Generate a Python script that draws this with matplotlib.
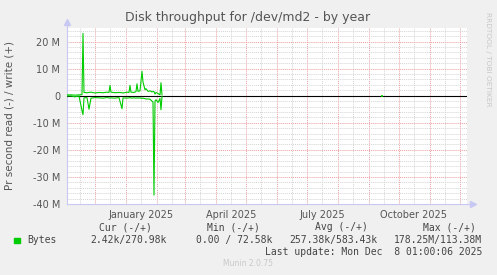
import datetime as dt
import matplotlib
matplotlib.use("Agg")
import matplotlib.pyplot as plt
import matplotlib.dates as mdates
from matplotlib.ticker import MultipleLocator, FuncFormatter

# time window: munin "year" graph = 400 days ending at last update
end = dt.datetime(2025, 12, 8, 1, 0, 6)
start = end - dt.timedelta(days=400)

# data, day offsets from start, values in bytes/s (millions)
days = [0, 4, 8, 12, 15, 16, 17, 20, 22, 24, 28, 32, 36, 40, 42, 43, 44, 48,
        52, 55, 56, 60, 62, 63, 64, 67, 69, 70, 71, 73, 75, 76, 77, 78, 79,
        81, 83, 85, 86, 87, 88, 89, 91, 93, 94, 95]
write_m = [0.3, 0.3, 0.2, 0.3, 0.4, 23.0, 1.2, 1.1, 1.2, 1.3, 1.0, 1.2, 1.1,
           1.3, 1.2, 3.8, 1.3, 1.1, 1.2, 1.1, 1.0, 1.3, 1.2, 3.8, 1.3, 1.2,
           1.5, 4.4, 1.6, 1.8, 9.0, 5.0, 3.6, 2.2, 2.6, 1.6, 1.8, 1.4, 1.6,
           1.5, 0.6, 1.2, 0.8, 0.3, 4.8, 0.3]
read_m = [-0.1, -0.1, -0.4, -0.1, -5.5, -7.0, -0.8, -0.7, -5.0, -0.9, -0.7,
          -0.8, -0.9, -0.7, -0.8, -0.9, -0.8, -0.9, -0.7, -4.8, -0.8, -0.9,
          -0.8, -0.7, -0.9, -0.8, -0.9, -0.8, -0.9, -0.8, -1.0, -0.9, -1.0,
          -1.1, -1.2, -1.2, -1.3, -2.0, -2.4, -36.7, -2.0, -1.5, -2.5, -1.0,
          -5.2, -0.3]
lone_day = 315
lone_write = 0.4
lone_read = -0.4

month_labels = {1: "January 2025", 4: "April 2025", 7: "July 2025", 10: "October 2025"}

leg_head = ["Cur (-/+)", "Min (-/+)", "Avg (-/+)", "Max (-/+)"]
leg_vals = ["2.42k/270.98k", "0.00 / 72.58k", "257.38k/583.43k", "178.25M/113.38M"]

green = "#00CC00"
txt = "#555555"
axcol = "#C8C8F4"

fig = plt.figure(figsize=(4.97, 2.75), dpi=100)
fig.patch.set_facecolor("#F0F0F0")
ax = fig.add_axes([67 / 497, 71 / 275, 400 / 497, 176 / 275])
ax.set_facecolor("white")

t = [start + dt.timedelta(days=d) for d in days]
ax.plot(t, [v * 1e6 for v in write_m], color=green, lw=0.8, zorder=4)
ax.plot(t, [v * 1e6 for v in read_m], color=green, lw=0.8, zorder=4)
lt = start + dt.timedelta(days=lone_day)
ax.vlines(lt, lone_read * 1e6, lone_write * 1e6, color=green, lw=1.2, zorder=4)

ax.axhline(0, color="black", lw=0.8, zorder=3)

ax.set_xlim(start, end)
ax.set_ylim(-40e6, 25e6)

ax.xaxis.set_major_locator(mdates.MonthLocator())
ax.xaxis.set_minor_locator(mdates.MonthLocator(bymonthday=16))
ax.xaxis.set_major_formatter(FuncFormatter(lambda v, p: ""))

def xlab(v, p):
    d = mdates.num2date(v)
    return month_labels.get(d.month, "") if d.year == 2025 else ""

ax.xaxis.set_minor_formatter(FuncFormatter(xlab))

ax.yaxis.set_major_locator(MultipleLocator(10e6))
ax.yaxis.set_minor_locator(MultipleLocator(2e6))
ax.yaxis.set_major_formatter(FuncFormatter(lambda v, p: "0" if abs(v) < 1 else "%d M" % round(v / 1e6)))

dots = (0, (1, 1))
ax.grid(which="minor", color="#D4D4D4", lw=0.7, ls=dots, zorder=1)
ax.grid(which="major", color="#EBA0A0", lw=0.7, ls=dots, zorder=2)
ax.set_axisbelow(True)

ax.tick_params(which="both", length=0, labelsize=7, labelcolor=txt, pad=5)
ax.tick_params(axis="x", which="minor", pad=4)

for s in ["top", "right"]:
    ax.spines[s].set_visible(False)
for s in ["left", "bottom"]:
    ax.spines[s].set_color(axcol)
    ax.spines[s].set_linewidth(0.8)

# axis arrows
ax.plot([0, 0], [1.0, 1.035], color=axcol, lw=0.8, transform=ax.transAxes, clip_on=False)
ax.plot([1.0, 1.015], [0, 0], color=axcol, lw=0.8, transform=ax.transAxes, clip_on=False)
ax.plot(0, 1.035, marker="^", ms=4, color=axcol, transform=ax.transAxes, clip_on=False)
ax.plot(1.015, 0, marker=">", ms=4, color=axcol, transform=ax.transAxes, clip_on=False)

ax.set_ylabel("Pr second read (-) / write (+)", fontsize=7.5, color=txt, labelpad=13)

fig.text(248 / 497, 1 - 18 / 275, "Disk throughput for /dev/md2 - by year",
         ha="center", va="center", fontsize=9, color=txt)
fig.text(488 / 497, 1 - 59 / 275, "RRDTOOL / TOBI OETIKER", rotation=270,
         ha="center", va="center", fontsize=5.3, color="#C8C8C8")

mono = "DejaVu Sans Mono"
head_x = [125, 233, 341, 449]
for x, s in zip(head_x, leg_head):
    fig.text(x / 497, 1 - 227.5 / 275, s, ha="center", va="center",
             family=mono, fontsize=7, color="#444444")
val_right = [167, 272, 377, 482]
for x, s in zip(val_right, leg_vals):
    fig.text(x / 497, 1 - 240 / 275, s, ha="right", va="center",
             family=mono, fontsize=7, color="#444444")
fig.patches.append(plt.Rectangle((14 / 497, 1 - 242.5 / 275), 6 / 497, 5 / 275,
                                 transform=fig.transFigure, color=green))
fig.text(27 / 497, 1 - 240 / 275, "Bytes", ha="left", va="center",
         family=mono, fontsize=7, color="#444444")
fig.text(482 / 497, 1 - 252 / 275, "Last update: Mon Dec  8 01:00:06 2025",
         ha="right", va="center", family=mono, fontsize=7, color="#444444")
fig.text(248 / 497, 1 - 264 / 275, "Munin 2.0.75", ha="center", va="center",
         fontsize=5.5, color="#C8C8C8")

fig.savefig("out.png", dpi=100, facecolor=fig.get_facecolor())
